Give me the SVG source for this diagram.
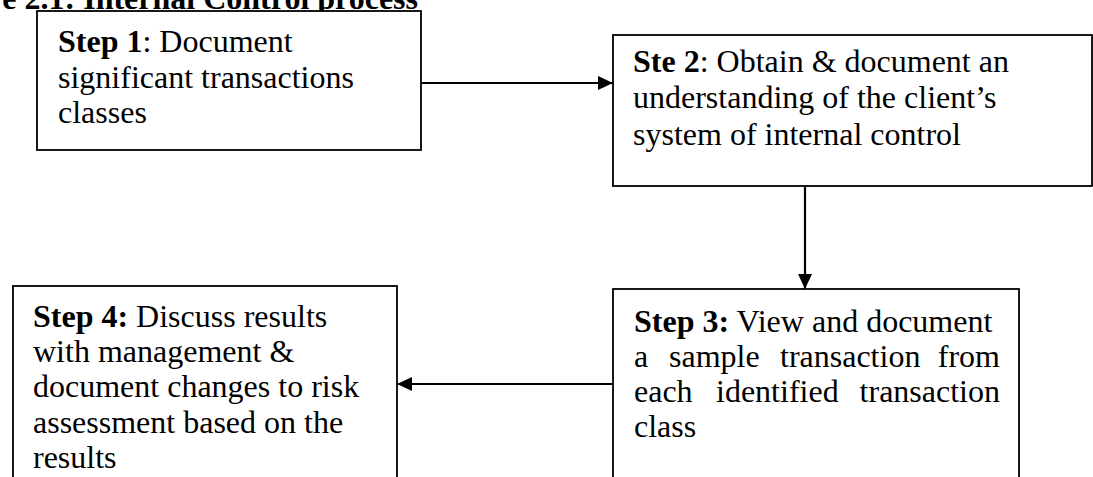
<svg xmlns="http://www.w3.org/2000/svg" width="1093" height="477" viewBox="0 0 1093 477">
<style>
.box{fill:#fff;stroke:#000;stroke-width:1.8}
.t{font-family:"Liberation Serif","Times New Roman",serif;font-size:32px;fill:#000}
.b{font-weight:bold}
.title{font-family:"Liberation Serif","Times New Roman",serif;font-size:32px;font-weight:bold;fill:#000}
.conn{stroke:#000;stroke-width:2.2;fill:none}
</style>
<defs>
<marker id="ah" markerWidth="15" markerHeight="14" refX="15" refY="7" orient="auto" markerUnits="userSpaceOnUse">
<path d="M0,0 L15,7 L0,14 Z" fill="#000"/>
</marker>
</defs>
<rect width="1093" height="477" fill="#fff"/>
<text class="title" x="418" y="9" text-anchor="end">e 2.1: Internal Control process</text>
<g id="step1">
<rect class="box" x="37" y="11" width="384" height="139"/>
<text class="t" x="58" y="52"><tspan class="b">Step 1</tspan>: Document</text>
<text class="t" x="58" y="88">significant transactions</text>
<text class="t" x="58" y="123">classes</text>
</g>
<g id="step2">
<rect class="box" x="613" y="35" width="479" height="151"/>
<text class="t" x="633" y="72"><tspan class="b">Ste 2</tspan>: Obtain &amp; document an</text>
<text class="t" x="633" y="108">understanding of the client’s</text>
<text class="t" x="633" y="145">system of internal control</text>
</g>
<g id="step3">
<rect class="box" x="613" y="289" width="406" height="200"/>
<text class="t" x="634" y="332"><tspan class="b">Step 3:</tspan> View and document</text>
<text class="t" y="367"><tspan x="634">a</tspan><tspan x="669">sample</tspan><tspan x="780">transaction</tspan><tspan x="1000" text-anchor="end">from</tspan></text>
<text class="t" y="402"><tspan x="634">each</tspan><tspan x="716">identified</tspan><tspan x="1000" text-anchor="end">transaction</tspan></text>
<text class="t" x="634" y="437">class</text>
</g>
<g id="step4">
<rect class="box" x="13" y="286" width="384" height="200"/>
<text class="t" x="33" y="327"><tspan class="b">Step 4:</tspan> Discuss results</text>
<text class="t" x="33" y="362">with management &amp;</text>
<text class="t" x="33" y="397">document changes to risk</text>
<text class="t" x="33" y="433">assessment based on the</text>
<text class="t" x="33" y="468">results</text>
</g>
<g id="connectors">
<line class="conn" x1="421" y1="83" x2="613" y2="83" marker-end="url(#ah)"/>
<line class="conn" x1="805" y1="186" x2="805" y2="289" marker-end="url(#ah)"/>
<line class="conn" x1="613" y1="384" x2="397" y2="384" marker-end="url(#ah)"/>
</g>
</svg>
